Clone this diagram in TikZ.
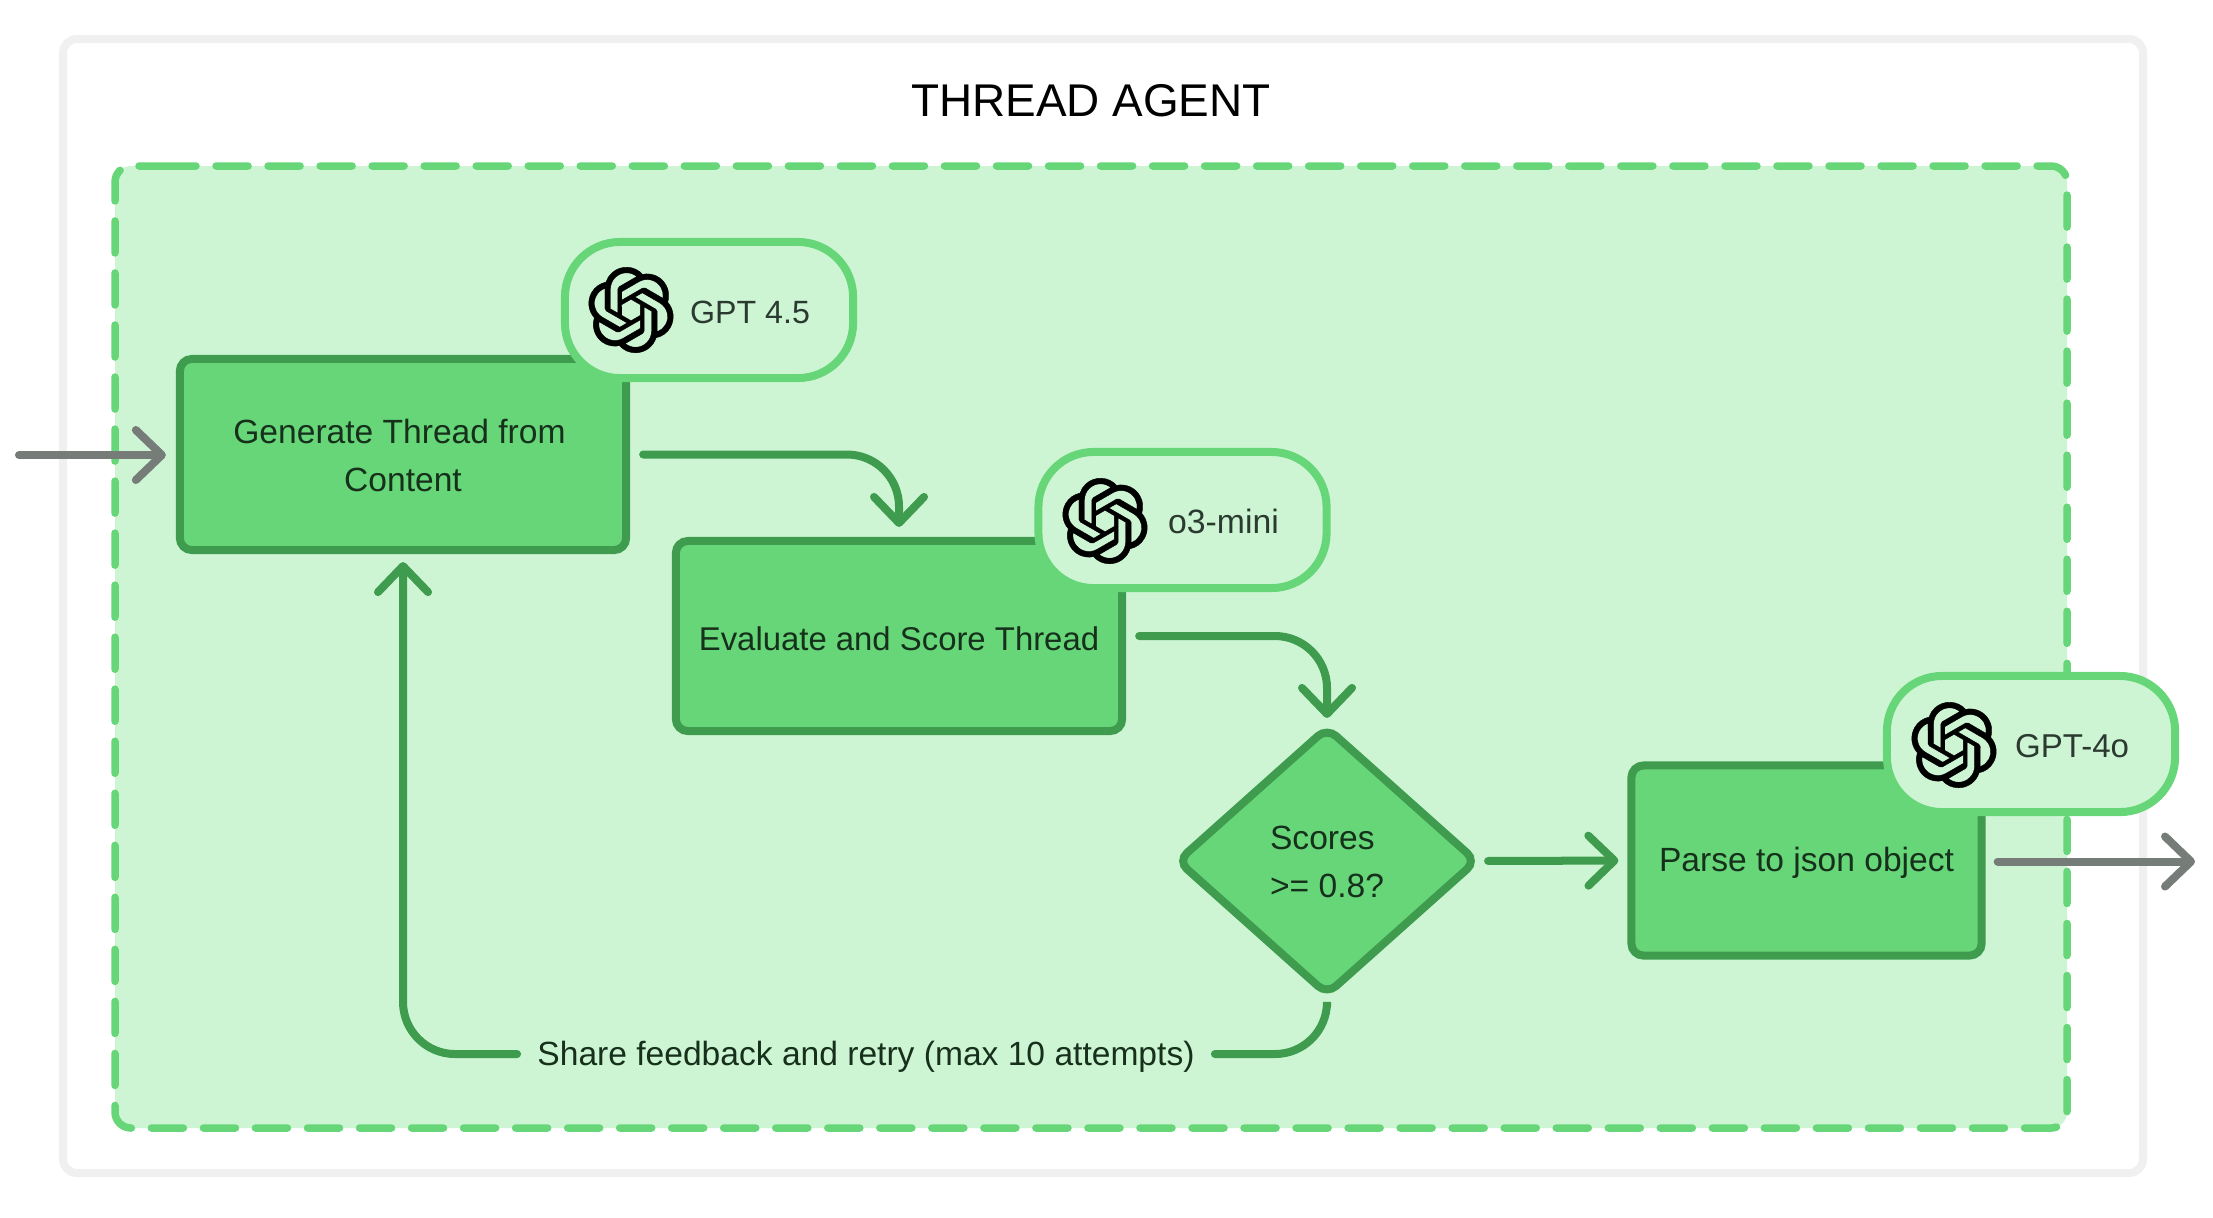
\documentclass[tikz,border=0pt]{standalone}
\usepackage{fontspec}
\setmainfont{Liberation Sans}
\usetikzlibrary{shapes.geometric,arrows.meta,svg.path}
\definecolor{lightg}{HTML}{CDF5D3}
\definecolor{midg}{HTML}{66D678}
\definecolor{darkg}{HTML}{3F9B4E}
\definecolor{frameg}{HTML}{F0F0F0}
\definecolor{arrowg}{HTML}{767C78}
\definecolor{textg}{HTML}{16301C}
\definecolor{pilltext}{HTML}{2B3A30}
\tikzset{
  body/.style={font=\fontsize{9.55pt}{13.66pt}\selectfont,text=textg},
  stepbox/.style={draw=darkg,fill=midg,line width=.08cm,rectangle,rounded corners=.12cm,minimum height=1.91cm,inner sep=0pt,outer sep=0pt,align=center,body},
  decision/.style={draw=darkg,fill=midg,line width=.08cm,diamond,rounded corners=.12cm,minimum width=2.98cm,minimum height=2.66cm,inner sep=0pt,outer sep=0pt,align=left,body},
  pill/.style={draw=midg,fill=lightg,line width=.08cm,rectangle,rounded corners=.55cm,minimum width=2.88cm,minimum height=1.36cm,inner sep=0pt,outer sep=0pt,font=\fontsize{9.15pt}{13.66pt}\selectfont,text=pilltext},
  conn/.style={draw=darkg,line width=.08cm,line cap=round,rounded corners=.52cm,-{Straight Barb[round,length=.26cm,width=.5cm]}},
  plain/.style={draw=darkg,line width=.08cm,line cap=round,rounded corners=.52cm},
  grayconn/.style={draw=arrowg,line width=.08cm,line cap=round,-{Straight Barb[round,length=.26cm,width=.5cm]}},
  openai/.pic={
    \filldraw[black,line width=.1pt,even odd rule,yscale=-1,scale=1.015,shift={(-12pt,-12pt)}] svg {
M 22.2819 9.8211
a 5.9847 5.9847 0 0 0 -0.5157 -4.9108
a 6.0462 6.0462 0 0 0 -6.5098 -2.9
A 6.0651 6.0651 0 0 0 4.9807 4.1818
a 5.9847 5.9847 0 0 0 -3.9977 2.9
a 6.0462 6.0462 0 0 0 0.7427 7.0966
a 5.98 5.98 0 0 0 0.511 4.9107
a 6.051 6.051 0 0 0 6.5146 2.9001
A 5.9847 5.9847 0 0 0 13.2599 24
a 6.0557 6.0557 0 0 0 5.7718 -4.2058
a 5.9894 5.9894 0 0 0 3.9977 -2.9001
a 6.0557 6.0557 0 0 0 -0.7475 -7.0729
z
M 13.2599 22.4292
a 4.4755 4.4755 0 0 1 -2.8764 -1.0408
l 0.1419 -0.0804
l 4.7783 -2.7582
a 0.7948 0.7948 0 0 0 0.3927 -0.6813
v -6.7369
l 2.02 1.1686
l 0.038 0.052
v 5.5826
a 4.504 4.504 0 0 1 -4.4945 4.4944
z
M 3.5992 18.3038
a 4.4708 4.4708 0 0 1 -0.5346 -3.0137
l 0.142 0.0852
l 4.783 2.7582
a 0.7712 0.7712 0 0 0 0.7806 0
l 5.8428 -3.3685
v 2.3324
l -0.0332 0.0615
L 9.74 19.9502
a 4.4992 4.4992 0 0 1 -6.1408 -1.6464
z
M 2.3408 7.8956
a 4.485 4.485 0 0 1 2.3655 -1.9728
V 11.6
a 0.7664 0.7664 0 0 0 0.3879 0.6765
l 5.8144 3.3543
l -2.0201 1.1685
l -0.071 0
l -4.8303 -2.7865
A 4.504 4.504 0 0 1 2.3408 7.872
z
M 18.9371 11.7514
L 13.1038 8.364
L 15.1192 7.2
l 0.071 0
l 4.8303 2.7913
a 4.4944 4.4944 0 0 1 -0.6765 8.1042
v -5.6772
a 0.79 0.79 0 0 0 -0.407 -0.667
z
M 20.9478 8.7283
l -0.142 -0.0852
l -4.7735 -2.7818
a 0.7759 0.7759 0 0 0 -0.7854 0
L 9.409 9.2297
V 6.8974
l 0.0284 -0.0615
l 4.8303 -2.7866
a 4.4992 4.4992 0 0 1 6.6802 4.66
z
M 8.3065 12.863
l -2.02 -1.1638
l -0.038 -0.0567
V 6.0742
a 4.4992 4.4992 0 0 1 7.3757 -3.4537
l -0.142 0.0805
L 8.704 5.459
a 0.7948 0.7948 0 0 0 -0.3927 0.6813
z
M 9.4041 10.4976
l 2.602 -1.4998
l 2.6069 1.4998
v 2.9994
l -2.5974 1.4997
l -2.6067 -1.4997
z
};
  }
}
\begin{document}
\begin{tikzpicture}[x=.01cm,y=-.01cm]
\useasboundingbox (0,0) rectangle (2213,1217);
\fill[white] (0,0) rectangle (2213,1217);
% frames
\draw[frameg,fill=white,line width=.08cm,rounded corners=.14cm] (63,39) rectangle (2143,1173);
\fill[lightg,rounded corners=.16cm] (115,166) rectangle (2067,1128);
\draw[midg,line width=.075cm,line cap=round,rounded corners=.16cm,dash pattern=on .32cm off .2cm]
  (164,166) -- (2067,166) -- (2067,1128) -- (115,1128) -- (115,166) -- (164,166);
\node[font=\fontsize{13.05pt}{16pt}\selectfont,text=black] (title) at (1091,101) {THREAD AGENT};
% process
\node[stepbox,minimum width=4.46cm] (gen) at (403,454.5) {\rule{0pt}{.27cm}Generate Thread from\hspace*{.07cm}\\Content};
\node[stepbox,minimum width=4.46cm,minimum height=1.9cm] (eval) at (899,636) {\fontsize{9.35pt}{13.66pt}\selectfont\raisebox{0pt}[.28cm][0pt]{Evaluate and Score Thread}};
\node[decision] (dec) at (1327,861) {\rule{0pt}{.26cm}Scores\\>= 0.8?};
\node[stepbox,minimum width=3.5cm,minimum height=1.9cm] (parse) at (1806.5,860.5) {\raisebox{0pt}[.29cm][.064cm]{Parse to json object}};
\node[body,inner sep=0pt,minimum width=6.96cm,minimum height=.4cm] (fb) at (866,1054) {\raisebox{0pt}[.29cm][.07cm]{Share feedback and retry (max 10 attempts)}};
\coordinate (inp) at (19,455);
\coordinate (outp) at (2195,861.5);
% connectors
\draw[grayconn,shorten >=.14cm] (inp) -- (gen.west |- inp);
\draw[conn,shorten <=.17cm,shorten >=.14cm] (gen.east) -| (eval.north);
\draw[conn,shorten <=.17cm,shorten >=.1cm] (eval.east) -| (dec.north);
\draw[conn,shorten <=.12cm,shorten >=.13cm] (dec.east) -- (parse.west);
\draw[grayconn,shorten <=.16cm] (parse.east |- outp) -- (outp);
\draw[plain,shorten <=.12cm] (dec.south) |- (fb.east);
\draw[conn,shorten >=.12cm] (fb.west) -| (gen.south);
% model pills
\node[pill] (p1) at (709,310) {\hspace*{.82cm}\raisebox{0pt}[.26cm][0pt]{GPT 4.5}};
\node[pill] (p2) at (1182.5,520) {\hspace*{.82cm}\fontsize{9.6pt}{13.66pt}\selectfont\raisebox{0pt}[.26cm][0pt]{o3-mini}};
\node[pill] (p3) at (2031,744) {\hspace*{.82cm}\fontsize{9.4pt}{13.66pt}\selectfont\raisebox{0pt}[.26cm][0pt]{GPT-4o}};
\pic (logo1) at (631,310) {openai};
\pic (logo2) at (1105,521) {openai};
\pic (logo3) at (1954,745) {openai};
\end{tikzpicture}
\end{document}
